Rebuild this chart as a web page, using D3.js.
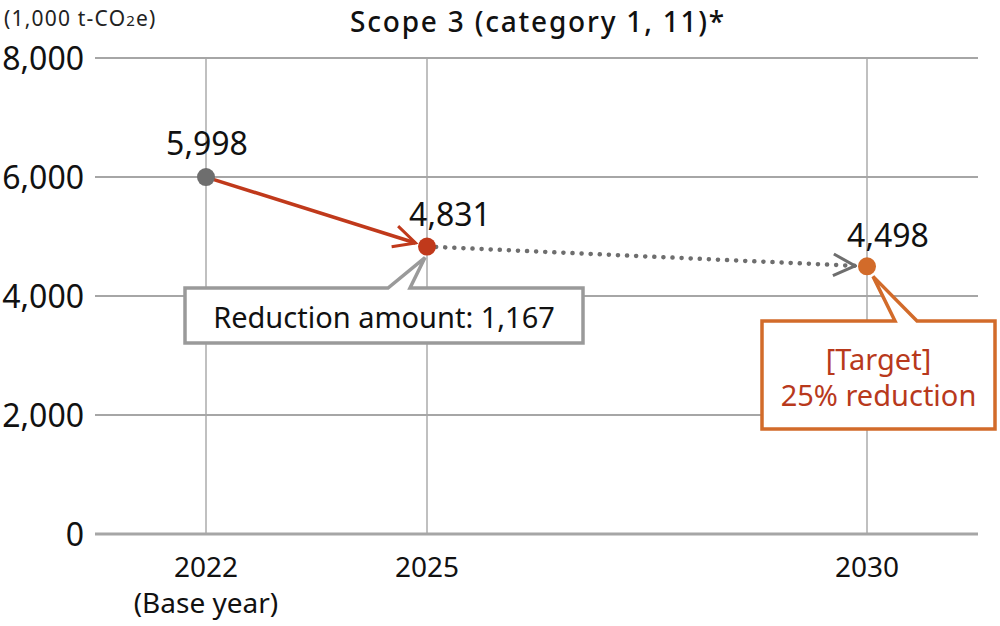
<!DOCTYPE html>
<html>
<head>
<meta charset="utf-8">
<script src="https://cdn.jsdelivr.net/npm/d3@7"></script>
<style>
    html, body { margin: 0; padding: 0; background: #fff; }
    svg text { font-family: "Noto Sans", "Open Sans", sans-serif; }
</style>
</head>
<body>
<svg id="chart" width="1000" height="626"></svg>
<script>
    // values
    const years = [2022, 2025, 2030];
    const yearLabels = [["2022", "(Base year)"], ["2025"], ["2030"]];
    const emissions = [5998, 4831, 4498];
    const pointColors = ["#6e6e6e", "#c0391b", "#d26b2a"];
    const yTicks = [0, 2000, 4000, 6000, 8000];
    const reductionText = "Reduction amount: 1,167";
    const targetText = ["[Target]", "25% reduction"];

    const svg = d3.select("#chart");
    const fmt = d3.format(",");

    const x = d3.scaleLinear().domain(years).range([206, 427, 867]);
    const y = d3.scaleLinear().domain([0, 8000]).range([534, 58]);
    const left = 95, right = 978;

    // title and unit
    svg.append("text")
        .attr("x", 4).attr("y", 26)
        .attr("font-size", 21).attr("letter-spacing", 1.2).attr("fill", "#222")
        .html("(1,000 t-CO<tspan font-size='15'>2</tspan>e)");
    svg.append("text")
        .attr("x", 538).attr("y", 32)
        .attr("text-anchor", "middle")
        .attr("font-size", 28).attr("font-weight", 500)
        .attr("letter-spacing", 1.8).attr("fill", "#111")
        .text("Scope 3 (category 1, 11)*");

    // vertical grid
    svg.append("g").selectAll("line").data(years).join("line")
        .attr("x1", d => x(d)).attr("x2", d => x(d))
        .attr("y1", y(8000)).attr("y2", y(0))
        .attr("stroke", "#ababab").attr("stroke-width", 1.5);

    // horizontal grid
    svg.append("g").selectAll("line").data(yTicks).join("line")
        .attr("x1", left).attr("x2", right)
        .attr("y1", d => y(d)).attr("y2", d => y(d))
        .attr("stroke", "#a6a6a6")
        .attr("stroke-width", d => d === 0 ? 3 : 2);

    // y tick labels
    svg.append("g").selectAll("text").data(yTicks).join("text")
        .attr("x", 84).attr("y", d => y(d) + 12)
        .attr("text-anchor", "end")
        .attr("font-size", 32).attr("fill", "#111")
        .text(d => fmt(d));

    // x labels
    const xl = svg.append("g").selectAll("text").data(years).join("text")
        .attr("text-anchor", "middle")
        .attr("font-size", 28).attr("fill", "#111");
    xl.selectAll("tspan").data((d, i) => yearLabels[i].map(t => ({ t, yr: d })))
        .join("tspan")
        .attr("x", d => x(d.yr))
        .attr("y", (d, j) => 577 + j * 36)
        .text(d => d.t);

    // arrow markers
    const defs = svg.append("defs");
    function chevron(id, color) {
        defs.append("marker")
            .attr("id", id)
            .attr("viewBox", "0 0 12 12")
            .attr("refX", 11).attr("refY", 6)
            .attr("markerWidth", 26).attr("markerHeight", 26)
            .attr("markerUnits", "userSpaceOnUse")
            .attr("orient", "auto")
            .append("path")
            .attr("d", "M1,1 L11,6 L1,11")
            .attr("fill", "none").attr("stroke", color)
            .attr("stroke-width", 1.4);
    }
    chevron("arrRed", "#c0391b");
    chevron("arrGray", "#6e6e6e");

    const pts = years.map((yr, i) => [x(yr), y(emissions[i])]);

    function shortTo(a, b, gap) {
        const dx = b[0] - a[0], dy = b[1] - a[1];
        const len = Math.hypot(dx, dy);
        return [b[0] - dx / len * gap, b[1] - dy / len * gap];
    }

    // red arrow 2022 -> 2025
    const e1 = shortTo(pts[0], pts[1], 12);
    svg.append("line")
        .attr("x1", pts[0][0]).attr("y1", pts[0][1])
        .attr("x2", e1[0]).attr("y2", e1[1])
        .attr("stroke", "#c0391b").attr("stroke-width", 3.5)
        .attr("marker-end", "url(#arrRed)");

    // dotted arrow 2025 -> 2030
    const e2 = shortTo(pts[1], pts[2], 12);
    svg.append("line")
        .attr("x1", pts[1][0]).attr("y1", pts[1][1])
        .attr("x2", e2[0]).attr("y2", e2[1])
        .attr("stroke", "#6e6e6e").attr("stroke-width", 4.5)
        .attr("stroke-dasharray", "0.1 9").attr("stroke-linecap", "round")
        .attr("marker-end", "url(#arrGray)");

    // points
    svg.append("g").selectAll("circle").data(pts).join("circle")
        .attr("cx", d => d[0]).attr("cy", d => d[1])
        .attr("r", 9)
        .attr("fill", (d, i) => pointColors[i]);

    // value labels
    const labelOffsets = [[1, -22], [23, -21], [21, -19]];
    svg.append("g").selectAll("text").data(pts).join("text")
        .attr("x", (d, i) => d[0] + labelOffsets[i][0])
        .attr("y", (d, i) => d[1] + labelOffsets[i][1])
        .attr("text-anchor", "middle")
        .attr("font-size", 32).attr("fill", "#111")
        .text((d, i) => fmt(emissions[i]));

    // callout: reduction amount
    const rb = { x: 185, y: 288, w: 398, h: 55 };
    svg.append("path")
        .attr("d", `M${rb.x},${rb.y} H388 L${pts[1][0] - 2},${pts[1][1] + 11} L410,${rb.y} H${rb.x + rb.w} V${rb.y + rb.h} H${rb.x} Z`)
        .attr("fill", "#fff").attr("stroke", "#9a9a9a").attr("stroke-width", 3.5)
        .attr("stroke-linejoin", "miter");
    svg.append("text")
        .attr("x", rb.x + rb.w / 2).attr("y", rb.y + 40)
        .attr("text-anchor", "middle")
        .attr("font-size", 29).attr("fill", "#111")
        .text(reductionText);

    // callout: target
    const tb = { x: 762, y: 321, w: 233, h: 108 };
    svg.append("path")
        .attr("d", `M${tb.x},${tb.y} H895 L${pts[2][0] + 6},${pts[2][1] + 10} L917,${tb.y} H${tb.x + tb.w} V${tb.y + tb.h} H${tb.x} Z`)
        .attr("fill", "#fff").attr("stroke", "#d26b2a").attr("stroke-width", 3.5);
    svg.append("text")
        .attr("text-anchor", "middle")
        .attr("font-size", 29).attr("fill", "#b8391c")
        .selectAll("tspan").data(targetText).join("tspan")
        .attr("x", tb.x + tb.w / 2)
        .attr("y", (d, i) => tb.y + 49 + i * 36)
        .text(d => d);
</script>
</body>
</html>
